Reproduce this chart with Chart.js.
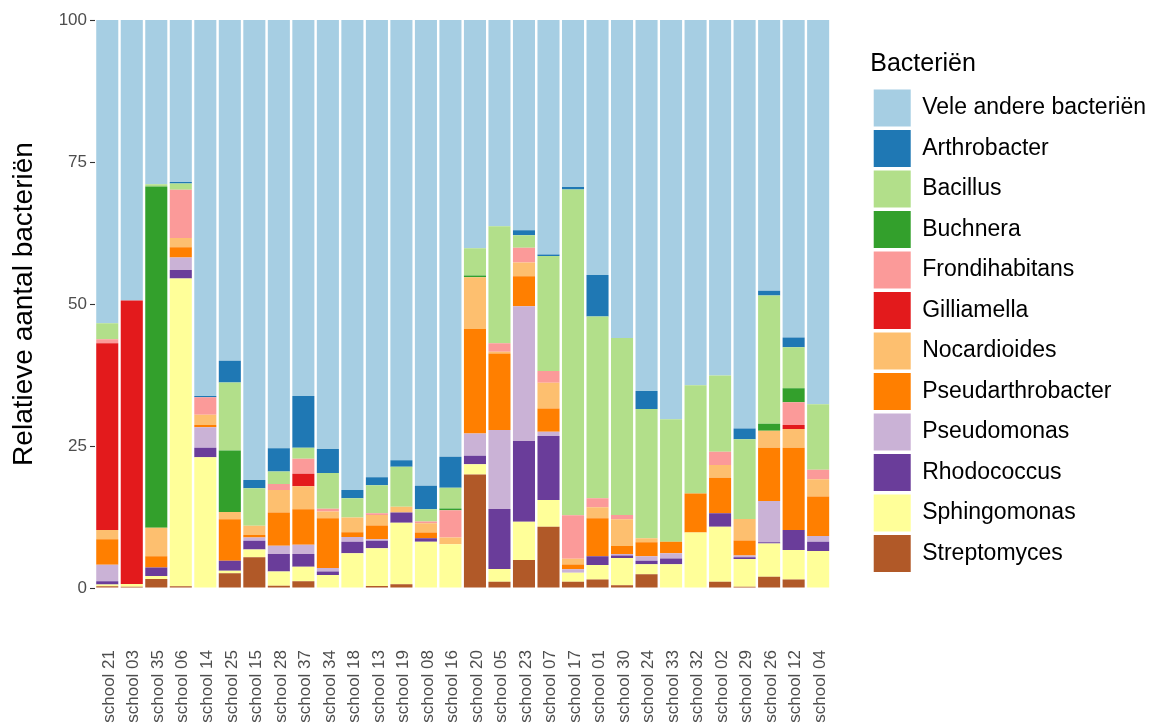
<!DOCTYPE html>
<html>
<head>
<meta charset="utf-8">
<script src="https://cdn.jsdelivr.net/npm/chart.js@4.4.1/dist/chart.umd.min.js"></script>
<style>
html,body{margin:0;padding:0;background:#fff;}
#wrap{width:1156px;height:724px;}
</style>
</head>
<body>
<div id="wrap"><canvas id="c" width="1156" height="724"></canvas></div>
<script>
const schools = ["school 21","school 03","school 35","school 06","school 14","school 25","school 15","school 28","school 37","school 34","school 18","school 13","school 19","school 08","school 16","school 20","school 05","school 23","school 07","school 17","school 01","school 30","school 24","school 33","school 32","school 02","school 29","school 26","school 12","school 04"];

const streptomyces      = [0.3,0.2,1.6,0.3,0,2.6,5.4,0.4,1.2,0,0,0.35,0.65,0,0,20.0,1.1,4.95,10.8,1.1,1.5,0.5,2.4,0,0,1.1,0.2,2.0,1.5,0];
const sphingomonas      = [0.3,0.5,0.5,54.2,23.0,0.45,1.4,2.5,2.55,2.3,6.1,6.65,10.85,8.15,7.7,1.8,2.25,6.7,4.7,1.6,2.55,4.8,1.8,4.2,9.75,9.7,4.9,5.85,5.2,6.5];
const rhodococcus       = [0.6,0,1.5,1.5,1.7,1.75,1.5,3.1,2.25,0.6,2.05,1.3,1.8,0.6,0,1.5,10.55,14.25,11.25,0,1.55,0.4,0.6,1.0,0,2.35,0.3,0.2,3.5,1.65];
const pseudomonas       = [2.9,0,0,2.2,3.6,0,0.6,1.45,1.6,0.6,0.85,0.3,0,0,0,3.9,13.9,23.7,0.75,0.6,0,0.3,0.8,0.9,0,0,0.3,7.25,0,1.0];
const pseudarthrobacter = [4.5,0,2.0,1.8,0.4,7.3,0.45,5.85,6.25,8.8,0.8,2.4,0,1.0,0,18.4,13.5,5.3,4.1,0.85,6.7,1.4,2.45,2.05,6.9,6.25,2.65,9.4,14.5,6.95];
const nocardioides      = [1.6,0,5.0,1.6,1.8,1.3,1.6,3.95,4.05,1.15,2.6,1.85,1.0,1.65,1.2,9.1,0.3,2.4,4.55,1.0,1.9,4.7,0.7,0,0,2.25,3.8,3.0,3.3,3.05];
const gilliamella       = [32.9,49.9,0,0,0,0,0,0,2.2,0,0,0,0,0,0,0,0,0,0,0,0,0,0,0,0,0,0,0,0.7,0];
const frondihabitans    = [0.7,0,0,8.5,3.1,0,0,1.05,2.65,0.5,0,0.3,0,0.3,4.8,0,1.5,2.6,2.05,7.65,1.6,0.75,0,0,0,2.35,0,0,4.0,1.65];
const buchnera          = [0,0,60.1,0,0,10.8,0,0,0,0,0,0,0,0,0.3,0.3,0,0,0,0,0,0,0,0,0,0,0,1.2,2.45,0];
const bacillus          = [2.8,0,0.4,1.1,0,12.0,6.6,2.2,1.95,6.3,3.4,4.95,7.05,2.15,3.65,4.8,20.6,2.2,20.25,57.35,32.0,31.15,22.75,21.55,19.05,13.4,14.05,22.6,7.25,11.55];
const arthrobacter      = [0,0,0,0.3,0.2,3.8,1.45,4.1,9.1,4.2,1.45,1.4,1.15,4.15,5.45,0,0,0.9,0.25,0.45,7.3,0,3.2,0,0,0,1.9,0.85,1.7,0];
const veleAndere        = [53.4,49.4,28.9,28.5,66.2,60.0,81.0,75.4,66.2,75.55,82.75,80.5,77.5,82.0,76.9,40.2,36.3,37.0,41.3,29.4,44.9,56.0,65.3,70.3,64.3,62.6,71.9,47.65,55.9,67.65];

const yTicks = [0,25,50,75,100];

const seriesNames = ["Streptomyces","Sphingomonas","Rhodococcus","Pseudomonas","Pseudarthrobacter","Nocardioides","Gilliamella","Frondihabitans","Buchnera","Bacillus","Arthrobacter","Vele andere bacteriën"];
const seriesData = [streptomyces,sphingomonas,rhodococcus,pseudomonas,pseudarthrobacter,nocardioides,gilliamella,frondihabitans,buchnera,bacillus,arthrobacter,veleAndere];
const seriesColors = ["#B15928","#FFFF99","#6A3D9A","#CAB2D6","#FF7F00","#FDBF6F","#E31A1C","#FB9A99","#33A02C","#B2DF8A","#1F78B4","#A6CEE3"];

const FONT = "'Liberation Sans', Arial, Helvetica, sans-serif";
const PLOT_RIGHT = 830.4;

const datasets = seriesNames.map((n,i)=>({
  label:n,
  data:seriesData[i],
  backgroundColor:seriesColors[i],
  borderWidth:0,
  barPercentage:0.9,
  categoryPercentage:1.0
}));

// let the legend take its natural width instead of the layout's per-box cap
const legendNoCap = {
  id:'legendNoCap',
  afterInit(chart){
    const lg = chart.legend;
    if (!lg) return;
    const f = lg.fit;
    lg.fit = function(){ this.maxWidth = 2000; return f.call(this); };
  }
};

new Chart(document.getElementById('c'), {
  type:'bar',
  data:{labels:schools, datasets},
  plugins:[legendNoCap],
  options:{
    responsive:false,
    animation:false,
    events:[],
    layout:{padding:{top:20,left:0,right:0,bottom:0}},
    plugins:{
      tooltip:{enabled:false},
      legend:{
        position:'right',
        align:'start',
        reverse:true,
        title:{display:true,text:'Bacteriën',color:'#000',position:'start',
               font:{family:FONT,size:25},padding:{top:32,bottom:4}},
        labels:{boxWidth:37,boxHeight:37,padding:3.5,color:'#000',
                font:{family:FONT,size:23}}
      }
    },
    scales:{
      x:{
        stacked:true,
        grid:{display:false,drawTicks:false},
        border:{display:false},
        ticks:{autoSkip:false,minRotation:90,maxRotation:90,padding:62,labelOffset:2,
               color:'#4D4D4D',font:{family:FONT,size:17}},
        afterFit(s){ s.height = 136; }
      },
      y:{
        stacked:true,
        min:0,max:100,
        afterBuildTicks(s){ s.ticks = yTicks.map(v=>({value:v})); },
        grid:{display:true,drawOnChartArea:false,drawTicks:true,tickLength:5,tickColor:'#333333',tickWidth:1.1},
        border:{display:false},
        ticks:{padding:3,color:'#4D4D4D',font:{family:FONT,size:17}},
        title:{display:true,text:'Relatieve aantal bacteriën',color:'#000',
               font:{family:FONT,size:28},padding:{top:7,bottom:0}},
        afterFit(s){ s.width = 95; }
      },
      yr:{
        type:'linear',position:'right',display:true,
        grid:{display:false,drawTicks:false},
        border:{display:false},
        ticks:{display:false},
        afterFit(s){
          const lw = (s.chart.legend && s.chart.legend.width) ? s.chart.legend.width : 287;
          s.width = Math.max(0, 1156 - lw - PLOT_RIGHT);
        }
      }
    }
  }
});
</script>
</body>
</html>
